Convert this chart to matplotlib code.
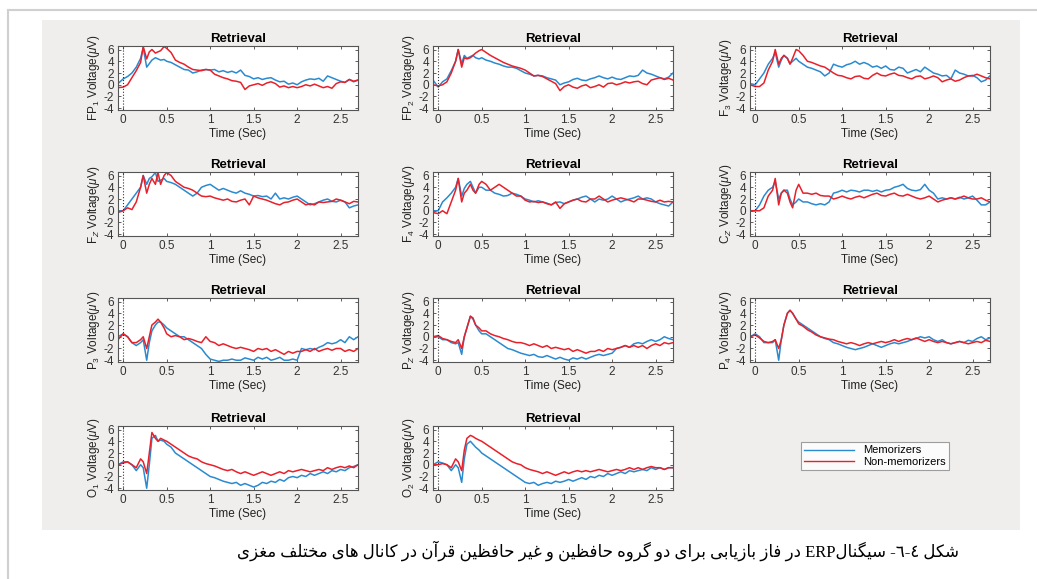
import re
import matplotlib
matplotlib.use("Agg")
import matplotlib.pyplot as plt
from matplotlib.lines import Line2D
from matplotlib.patches import Rectangle

plt.rcParams["font.family"] = ["Liberation Sans", "DejaVu Sans"]
plt.rcParams["mathtext.fontset"] = "custom"
plt.rcParams["mathtext.rm"] = "Liberation Sans"
plt.rcParams["mathtext.it"] = "Liberation Sans:italic"
plt.rcParams["axes.unicode_minus"] = False

# time axis (seconds), shared by every channel
time_s = [-0.06, 0.0, 0.05, 0.1, 0.15, 0.2, 0.23, 0.27, 0.3, 0.33, 0.37, 0.4, 0.43, 0.47, 0.5,
          0.55, 0.6, 0.65, 0.7, 0.75, 0.8, 0.85, 0.9, 0.95, 1.0,
          1.05, 1.1, 1.15, 1.2, 1.25, 1.3, 1.35, 1.4, 1.45, 1.5,
          1.55, 1.6, 1.65, 1.7, 1.75, 1.8, 1.85, 1.9, 1.95, 2.0,
          2.05, 2.1, 2.15, 2.2, 2.25, 2.3, 2.35, 2.4, 2.45, 2.5,
          2.55, 2.6, 2.65, 2.7]

# ERP amplitude (uV): memorizers (blue) / non-memorizers (red)
fp1_mem = [0.2, 1.0, 1.4, 2.0, 3.0, 4.5, 6.3, 3.0, 3.6, 4.2, 4.6, 4.4, 4.2, 4.3, 4.0, 3.8, 3.4, 3.0, 2.6, 2.5, 2.0, 2.2, 2.5, 2.6, 2.5,
           2.6, 2.2, 2.4, 2.1, 2.3, 2.0, 2.5, 1.6, 1.4, 1.0, 1.2, 0.9, 1.1, 1.2, 0.8, 0.5, 0.6, 0.1, 0.3, 0.0,
           0.5, 0.8, 1.0, 0.9, 1.1, 0.6, 1.5, 1.2, 0.9, 0.6, 0.4, 0.9, 0.5, 0.8]
fp1_non = [-0.5, -0.4, 0.0, 1.2, 2.4, 3.8, 6.5, 4.4, 5.6, 6.0, 5.4, 5.6, 5.8, 6.5, 6.2, 5.5, 4.2, 3.8, 3.5, 3.0, 2.6, 2.5, 2.4, 2.6, 2.5,
           1.8, 1.5, 1.2, 1.0, 0.7, 0.6, 0.4, -0.8, -0.2, 0.0, 0.2, -0.1, 0.3, 0.5, 0.2, -0.4, -0.2, -0.5, -0.3, -0.5,
           -0.3, 0.0, -0.2, 0.1, -0.2, -0.5, -0.3, -0.6, 0.2, 0.5, 0.4, 0.9, 0.6, 0.8]

fp2_mem = [0.8, -0.4, 0.5, 1.0, 2.4, 4.0, 6.0, 3.6, 5.0, 4.5, 4.8, 5.0, 4.6, 4.4, 4.6, 4.2, 4.0, 3.7, 3.5, 3.2, 3.0, 3.0, 2.8, 2.4, 2.0,
           1.8, 1.5, 1.6, 1.5, 1.2, 1.0, 0.8, 0.0, 0.3, 0.5, 0.9, 1.1, 0.8, 0.7, 1.0, 1.2, 1.5, 1.2, 1.0, 1.3,
           1.0, 0.9, 1.2, 1.5, 1.4, 1.6, 2.5, 2.0, 1.8, 1.5, 1.2, 1.0, 1.3, 2.0]
fp2_non = [0.0, -0.2, 0.0, 0.5, 2.0, 4.0, 6.0, 3.0, 4.6, 4.4, 4.6, 5.0, 5.4, 5.8, 6.0, 5.5, 5.0, 4.6, 4.2, 3.8, 3.5, 3.2, 3.0, 2.8, 2.5,
           2.0, 1.5, 1.6, 1.4, 1.0, 0.6, 0.2, -1.0, -0.3, 0.0, -0.4, -0.6, -0.2, 0.0, -0.5, -0.3, 0.0, -0.4, 0.2, 0.3,
           0.0, 0.2, 0.5, 0.3, 0.5, 0.6, 0.2, 0.0, 0.8, 1.0, 1.2, 0.9, 1.1, 0.8]

f3_mem = [0.2, 0.0, 1.0, 2.0, 3.5, 4.5, 5.5, 3.0, 4.2, 5.0, 4.5, 3.6, 4.0, 4.5, 4.0, 3.5, 3.0, 2.8, 2.5, 2.2, 1.5, 2.0, 3.5, 3.2, 3.0,
          3.4, 3.6, 4.0, 3.5, 3.8, 3.5, 3.0, 3.2, 2.8, 3.2, 2.6, 2.5, 3.0, 2.8, 2.0, 2.3, 2.6, 2.2, 3.0, 2.5,
          2.0, 1.8, 1.5, 1.6, 1.0, 2.5, 2.0, 1.8, 1.5, 1.6, 1.2, 0.5, 0.8, 1.5]
f3_non = [0.0, -0.3, -0.3, 0.3, 2.5, 4.0, 6.0, 3.5, 4.5, 5.0, 4.5, 3.5, 4.5, 6.0, 5.8, 5.0, 4.0, 3.8, 3.5, 3.2, 3.0, 2.5, 2.0, 1.6, 1.5,
          1.2, 1.0, 1.4, 1.5, 1.1, 1.0, 1.6, 2.0, 1.6, 1.5, 1.8, 2.0, 1.6, 1.5, 1.2, 1.0, 1.4, 1.5, 1.0, 1.2,
          1.5, 1.2, 0.5, 0.8, 1.0, 0.6, 0.8, 1.2, 1.5, 1.5, 1.8, 1.5, 1.2, 1.0]

fz_mem = [0.0, 0.0, 1.0, 2.0, 3.0, 4.0, 6.0, 4.5, 5.5, 5.8, 6.5, 5.0, 5.2, 5.5, 5.0, 4.8, 4.5, 4.0, 3.5, 3.0, 2.5, 3.0, 4.0, 4.3, 4.5,
          4.0, 3.5, 3.8, 3.5, 3.2, 3.0, 3.4, 3.0, 2.8, 2.5, 2.6, 2.4, 2.5, 2.0, 3.0, 2.0, 2.2, 2.0, 2.3, 2.5,
          2.0, 1.5, 1.0, 1.2, 1.5, 1.8, 2.0, 1.6, 1.5, 1.8, 1.5, 0.5, 0.8, 1.0]
fz_non = [-0.3, 0.0, 0.5, 0.2, 1.5, 4.0, 6.0, 3.0, 4.5, 5.5, 4.5, 6.5, 4.5, 6.0, 6.5, 6.0, 5.0, 4.5, 4.0, 3.8, 3.5, 3.0, 2.5, 2.4, 2.5,
          2.2, 2.0, 1.8, 2.0, 1.6, 1.5, 1.8, 2.0, 1.0, 2.5, 2.2, 2.0, 1.8, 1.5, 1.2, 1.0, 1.4, 1.5, 1.8, 2.0,
          1.5, 1.0, 1.2, 1.0, 1.5, 1.4, 1.5, 1.6, 2.0, 1.8, 1.5, 1.2, 1.6, 1.5]

f4_mem = [0.0, 0.0, 1.5, 2.2, 3.0, 4.0, 5.5, 2.5, 3.8, 4.5, 5.0, 4.0, 3.0, 4.0, 4.0, 3.5, 3.5, 3.0, 2.8, 2.5, 2.6, 3.0, 2.8, 2.5, 2.0,
          1.8, 1.5, 1.7, 1.5, 1.3, 1.0, 1.4, 1.5, 1.2, 1.5, 1.8, 2.0, 2.3, 2.5, 2.0, 1.5, 2.0, 1.8, 2.0, 2.5,
          2.0, 1.5, 1.8, 2.0, 2.2, 2.5, 2.0, 2.2, 2.0, 1.5, 1.2, 1.0, 0.8, 1.5]
f4_non = [-0.3, -0.5, 0.0, -0.5, 1.5, 3.5, 5.5, 1.5, 3.0, 3.5, 4.5, 3.5, 3.0, 4.5, 5.0, 4.5, 3.5, 4.0, 4.5, 4.0, 3.5, 3.0, 2.5, 2.5, 1.8,
          1.5, 1.6, 1.4, 1.5, 1.2, 1.0, 1.5, 0.4, 1.2, 1.5, 1.8, 2.0, 1.6, 1.5, 2.0, 2.0, 2.5, 2.0, 1.5, 1.8,
          2.0, 2.2, 2.0, 1.8, 1.5, 2.0, 2.0, 1.8, 1.6, 1.5, 1.8, 1.5, 1.6, 1.5]

cz_mem = [0.0, 0.0, 1.0, 2.5, 3.5, 4.0, 5.0, 2.0, 3.0, 3.5, 3.5, 2.0, 1.0, 1.5, 2.0, 1.5, 1.5, 1.2, 1.0, 1.2, 1.0, 1.5, 3.0, 3.2, 3.5,
          3.2, 3.5, 3.4, 3.2, 3.5, 3.5, 3.3, 3.5, 3.2, 3.5, 3.6, 4.0, 4.2, 4.5, 3.8, 3.5, 3.4, 3.6, 4.5, 3.5,
          3.0, 2.0, 2.2, 2.0, 2.2, 2.0, 2.3, 2.0, 2.2, 2.5, 1.8, 1.0, 1.0, 1.5]
cz_non = [0.0, 0.0, 0.0, 0.5, 2.5, 3.5, 5.5, 1.0, 3.0, 3.5, 3.0, 1.5, 0.5, 3.5, 4.5, 3.0, 3.0, 2.8, 3.0, 2.6, 2.5, 2.5, 2.0, 2.2, 2.5,
          2.2, 2.0, 2.3, 2.5, 2.2, 2.5, 2.8, 3.0, 2.6, 2.5, 2.8, 3.0, 2.6, 2.5, 2.8, 2.5, 2.2, 2.0, 2.2, 2.5,
          2.0, 1.5, 1.8, 2.0, 2.2, 2.0, 2.2, 2.5, 2.2, 2.0, 2.0, 2.2, 1.8, 1.5]

p3_mem = [0.0, 0.5, 0.0, -1.0, -1.5, -1.0, -0.5, -4.0, -1.0, 1.0, 2.0, 2.5, 2.5, 2.0, 1.5, 1.0, 0.5, 0.0, 0.0, -0.5, -1.0, -1.5, -2.0, -3.0, -3.8,
          -4.0, -4.2, -4.0, -4.0, -3.8, -4.0, -4.0, -3.6, -3.8, -4.0, -3.5, -3.8, -3.5, -4.0, -3.8, -3.5, -4.0, -4.0, -3.8, -4.0,
          -2.0, -2.2, -2.0, -2.2, -1.8, -1.5, -1.0, -1.2, -1.0, -0.5, -1.0, 0.0, -0.5, 0.0]
p3_non = [-0.5, 0.5, 0.0, -1.0, -1.0, -0.5, 0.0, -2.0, 0.0, 2.0, 2.5, 3.0, 2.5, 1.5, 0.5, 0.0, 0.2, 0.0, -0.5, -0.3, -0.5, -0.8, -1.0, 0.0, -0.8,
          -1.0, -1.5, -1.2, -1.5, -1.8, -2.0, -1.8, -2.0, -2.2, -2.5, -2.0, -2.2, -2.0, -2.5, -2.2, -2.6, -3.0, -2.5, -2.8, -2.5,
          -2.5, -2.2, -2.5, -2.0, -2.5, -2.2, -2.0, -2.3, -2.0, -2.0, -2.5, -2.2, -2.5, -2.0]

pz_mem = [0.0, 0.0, -0.5, -0.5, -1.0, -1.2, -1.0, -3.0, 0.0, 1.5, 3.5, 3.0, 2.0, 1.0, 0.5, 0.5, 0.0, -0.5, -1.0, -1.5, -2.0, -2.2, -2.5, -2.8, -3.0,
          -3.2, -3.0, -3.4, -3.5, -3.2, -3.5, -3.8, -3.5, -3.8, -4.0, -3.6, -3.8, -3.5, -3.8, -3.5, -3.2, -3.0, -3.2, -3.0, -2.8,
          -2.0, -1.8, -1.5, -1.8, -1.2, -1.0, -1.2, -0.8, -0.5, -0.8, -0.5, 0.0, -0.3, -0.5]
pz_non = [0.0, 0.2, -0.3, -0.5, -0.8, -1.0, -0.5, -2.0, 0.0, 1.5, 3.5, 3.2, 2.0, 1.5, 1.0, 1.0, 0.5, 0.2, 0.0, -0.3, -0.5, -0.8, -1.0, -1.0, -1.2,
          -1.5, -1.2, -1.5, -1.8, -1.5, -2.0, -1.8, -2.0, -2.2, -2.0, -2.5, -2.2, -2.5, -2.8, -2.5, -2.5, -2.2, -2.5, -2.0, -2.2,
          -2.0, -1.8, -1.5, -1.8, -1.5, -1.8, -1.5, -2.0, -1.5, -1.2, -1.5, -1.0, -1.2, -1.0]

p4_mem = [0.0, 0.5, 0.0, -1.0, -1.0, -1.0, -0.5, -4.0, -0.5, 2.0, 4.0, 4.5, 4.0, 3.0, 2.5, 2.0, 1.5, 1.0, 0.5, 0.0, -0.3, -0.5, -1.0, -1.2, -1.5,
          -1.8, -2.0, -2.2, -2.0, -1.8, -1.5, -1.2, -1.5, -1.8, -1.5, -1.2, -1.0, -1.2, -1.0, -0.8, -0.5, -0.3, 0.0, -0.2, 0.0,
          -0.5, -0.8, -0.5, -1.0, -1.2, -1.0, -0.8, -1.0, -0.6, -0.8, -0.3, 0.0, -0.5, -0.2]
p4_non = [0.0, 0.3, -0.2, -0.8, -1.0, -0.8, -0.5, -2.0, -0.5, 2.0, 4.0, 4.5, 4.0, 3.0, 2.2, 1.8, 1.2, 0.8, 0.3, 0.0, -0.2, -0.4, -0.5, -0.8, -1.0,
          -1.2, -1.0, -1.2, -1.5, -1.2, -1.0, -1.2, -1.0, -0.8, -1.0, -0.8, -0.5, -0.8, -0.5, -0.3, -0.5, -0.2, -0.5, -0.8, -0.5,
          -0.8, -1.0, -0.8, -1.0, -1.2, -1.0, -0.8, -1.0, -1.2, -1.0, -0.8, -1.0, -0.6, -0.8]

o1_mem = [0.0, 0.5, 0.5, 0.0, -1.0, 0.0, -0.5, -4.0, 0.0, 4.5, 5.0, 4.0, 4.2, 4.0, 3.5, 3.0, 2.0, 1.5, 1.0, 0.5, 0.0, -0.5, -1.0, -1.5, -2.0,
          -2.2, -2.5, -2.8, -3.0, -3.2, -3.0, -3.5, -3.2, -3.5, -3.8, -3.5, -3.0, -3.2, -2.8, -3.0, -2.5, -2.8, -2.2, -2.0, -2.2,
          -1.8, -2.0, -1.5, -1.8, -1.5, -1.2, -1.5, -1.0, -1.2, -0.8, -1.0, -0.5, -0.3, 0.0]
o1_non = [0.0, 0.3, 0.5, 0.0, -0.5, 1.0, 0.5, -1.5, 2.0, 5.5, 4.5, 4.0, 4.5, 4.2, 4.0, 3.5, 3.0, 2.5, 2.0, 1.5, 1.2, 1.0, 0.5, 0.2, 0.0,
          -0.2, -0.5, -0.8, -1.0, -0.8, -1.2, -1.5, -1.2, -1.5, -1.8, -1.5, -1.2, -1.5, -1.8, -1.5, -1.2, -1.5, -1.0, -1.2, -1.0,
          -0.8, -1.0, -1.2, -1.0, -0.8, -1.0, -0.5, -0.8, -0.5, -0.3, -0.5, -0.2, -0.5, 0.0]

o2_mem = [0.0, 0.5, 0.3, 0.0, -1.0, 0.0, -0.5, -3.0, 1.0, 3.5, 4.0, 3.5, 3.0, 2.5, 2.0, 1.5, 1.0, 0.5, 0.0, -0.5, -1.0, -1.5, -2.0, -2.5, -3.0,
          -3.2, -3.0, -3.5, -3.2, -3.0, -3.2, -2.8, -3.0, -2.8, -2.5, -2.8, -2.5, -2.2, -2.5, -2.0, -2.2, -1.8, -2.0, -1.5, -1.8,
          -1.5, -1.2, -1.5, -1.0, -1.2, -1.0, -0.8, -1.0, -0.5, -0.8, -0.5, -0.8, -0.5, -0.5]
o2_non = [0.0, 0.0, 0.2, 0.0, -0.5, 1.0, 0.5, -1.0, 2.5, 4.5, 5.0, 4.8, 4.5, 4.2, 4.0, 3.5, 3.0, 2.5, 2.0, 1.5, 1.0, 0.5, 0.2, 0.0, -0.5,
          -0.8, -1.0, -1.2, -1.5, -1.2, -1.5, -1.8, -1.5, -1.2, -1.5, -1.2, -1.0, -1.2, -1.0, -1.2, -1.0, -0.8, -1.0, -1.2, -1.0,
          -0.8, -1.0, -0.8, -0.5, -0.8, -0.5, -0.8, -0.5, -0.3, -0.5, -0.5, -0.8, -0.5, -0.5]

channel_names = ["FP$_1$", "FP$_2$", "F$_3$", "F$_Z$", "F$_4$", "C$_Z$",
                 "P$_3$", "P$_Z$", "P$_4$", "O$_1$", "O$_2$"]
mem_series = [fp1_mem, fp2_mem, f3_mem, fz_mem, f4_mem, cz_mem, p3_mem, pz_mem, p4_mem, o1_mem, o2_mem]
non_series = [fp1_non, fp2_non, f3_non, fz_non, f4_non, cz_non, p3_non, pz_non, p4_non, o1_non, o2_non]
group_names = ["Memorizers", "Non-memorizers"]

x_ticks = [0, 0.5, 1, 1.5, 2, 2.5]
x_tick_labels = ["0", "0.5", "1", "1.5", "2", "2.5"]
y_ticks = [-4, -2, 0, 2, 4, 6]

caption = "شکل ٤-٦- سیگنالERP در فاز بازیابی برای دو گروه حافظین و غیر حافظین قرآن در کانال های مختلف مغزی"

BLUE = "#2a8ad0"
RED = "#e8202a"

# Arabic presentation forms: (isolated, final[, initial, medial])
FORMS = {
    "ا": ("\uFE8D", "\uFE8E"),
    "آ": ("\uFE81", "\uFE82"),
    "ب": ("\uFE8F", "\uFE90", "\uFE91", "\uFE92"),
    "ت": ("\uFE95", "\uFE96", "\uFE97", "\uFE98"),
    "ح": ("\uFEA1", "\uFEA2", "\uFEA3", "\uFEA4"),
    "خ": ("\uFEA5", "\uFEA6", "\uFEA7", "\uFEA8"),
    "د": ("\uFEA9", "\uFEAA"),
    "ر": ("\uFEAD", "\uFEAE"),
    "ز": ("\uFEAF", "\uFEB0"),
    "س": ("\uFEB1", "\uFEB2", "\uFEB3", "\uFEB4"),
    "ش": ("\uFEB5", "\uFEB6", "\uFEB7", "\uFEB8"),
    "ظ": ("\uFEC5", "\uFEC6", "\uFEC7", "\uFEC8"),
    "غ": ("\uFECD", "\uFECE", "\uFECF", "\uFED0"),
    "ف": ("\uFED1", "\uFED2", "\uFED3", "\uFED4"),
    "ق": ("\uFED5", "\uFED6", "\uFED7", "\uFED8"),
    "ل": ("\uFEDD", "\uFEDE", "\uFEDF", "\uFEE0"),
    "م": ("\uFEE1", "\uFEE2", "\uFEE3", "\uFEE4"),
    "ن": ("\uFEE5", "\uFEE6", "\uFEE7", "\uFEE8"),
    "ه": ("\uFEE9", "\uFEEA", "\uFEEB", "\uFEEC"),
    "و": ("\uFEED", "\uFEEE"),
    "ی": ("\uFBFC", "\uFBFD", "\uFBFE", "\uFBFF"),
    "ک": ("\uFB8E", "\uFB8F", "\uFB90", "\uFB91"),
    "گ": ("\uFB92", "\uFB93", "\uFB94", "\uFB95"),
}


def shape_rtl(text):
    # join letters, then lay out right-to-left keeping latin runs in order
    out = []
    for i, ch in enumerate(text):
        forms = FORMS.get(ch)
        if forms is None:
            out.append(ch)
            continue
        prev = text[i - 1] if i > 0 else ""
        nxt = text[i + 1] if i + 1 < len(text) else ""
        join_prev = prev in FORMS and len(FORMS[prev]) == 4
        join_next = len(forms) == 4 and nxt in FORMS
        if join_prev and join_next:
            out.append(forms[3])
        elif join_prev:
            out.append(forms[1])
        elif join_next:
            out.append(forms[2])
        else:
            out.append(forms[0])
    visual = "".join(out)[::-1]
    return re.sub(r"[A-Za-z]+", lambda m: m.group(0)[::-1], visual)


W, H = 1037, 579
fig = plt.figure(figsize=(W / 100, H / 100), dpi=100)
fig.patch.set_facecolor("white")

# grey figure panel and the page frame lines
fig.add_artist(Rectangle((42 / W, 1 - 530 / H), (1020 - 42) / W, (530 - 20) / H,
                         transform=fig.transFigure, facecolor="#efeeec", edgecolor="none", zorder=0))
fig.add_artist(Line2D([8 / W, 1], [1 - 10 / H, 1 - 10 / H], transform=fig.transFigure, color="#d0d0d0", lw=1.5))
fig.add_artist(Line2D([8 / W, 8 / W], [0, 1 - 10 / H], transform=fig.transFigure, color="#d0d0d0", lw=1.5))

col_left = [118, 433, 750]
row_top = [46, 172, 298, 426]
ax_w, ax_h = 240, 64

for k in range(len(channel_names)):
    r, c = divmod(k, 3)
    ax = fig.add_axes([col_left[c] / W, 1 - (row_top[r] + ax_h) / H, ax_w / W, ax_h / H])
    ax.set_facecolor("white")
    ax.plot(time_s, mem_series[k], color=BLUE, lw=1.1)
    ax.plot(time_s, non_series[k], color=RED, lw=1.1)
    ax.axvline(0, color="#333333", ls=":", lw=0.8)
    ax.set_xlim(-0.06, 2.7)
    ax.set_ylim(-4.3, 6.6)
    ax.set_xticks(x_ticks)
    ax.set_xticklabels(x_tick_labels)
    ax.set_yticks(y_ticks)
    ax.tick_params(direction="in", top=True, right=True, length=2.5, width=0.6,
                   labelsize=8.5, color="#444444", labelcolor="#333333", pad=3)
    for s in ax.spines.values():
        s.set_color("#555555")
        s.set_linewidth(0.8)
    ax.set_title("Retrieval", fontsize=9.5, fontweight="bold", pad=3)
    ax.set_xlabel("Time (Sec)", fontsize=8.5, labelpad=1, color="#222222")
    ax.set_ylabel(channel_names[k] + " Voltage($\\mu$V)", fontsize=8.5, labelpad=1, color="#222222")

handles = [Line2D([], [], color=BLUE, lw=1.0), Line2D([], [], color=RED, lw=1.0)]
leg = fig.legend(handles, group_names, loc="center", bbox_to_anchor=(875 / W, 1 - 456 / H),
                 fontsize=8, frameon=True, fancybox=False, edgecolor="#888888",
                 handlelength=4.5, borderpad=0.3, labelspacing=0.1, handletextpad=0.8)
leg.get_frame().set_linewidth(0.8)

fig.text(598 / W, 1 - 551 / H, shape_rtl(caption), ha="center", va="center",
         fontsize=12, family=["Liberation Serif", "DejaVu Sans"])

fig.savefig("out.png", dpi=100, facecolor=fig.get_facecolor())
